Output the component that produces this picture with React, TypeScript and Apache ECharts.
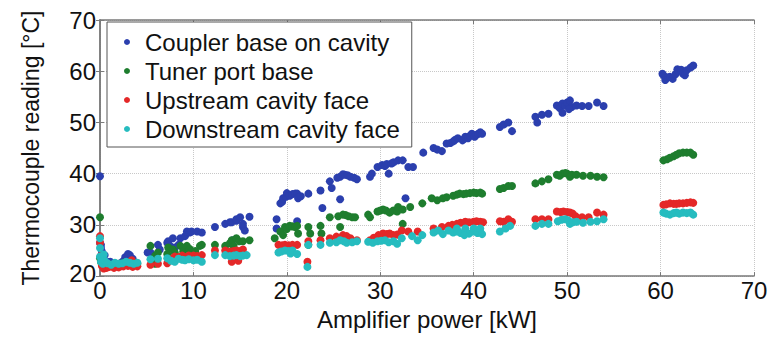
import React, { useEffect, useRef } from "react";
import * as echarts from "echarts";

const seriesNames = [
  "Coupler base on cavity",
  "Tuner port base",
  "Upstream cavity face",
  "Downstream cavity face",
];
const seriesColors = ["#2b3fae", "#1e7d2e", "#e42828", "#26bcbf"];

const xTicks = [0, 10, 20, 30, 40, 50, 60, 70];
const yTicks = [20, 30, 40, 50, 60, 70];

const couplerBase: number[][] = [
  [0, 39.5], [0, 26.5], [0.1, 26.1], [0.1, 25.5], [0.2, 24.8], [0.5, 24.1], [0.3, 23.5], [0.8, 22.8], [1.1, 22.8],
  [2.4, 22.8], [2.7, 23.7], [3.2, 24.1], [3.5, 23.4], [3.0, 24.3],
  [5.1, 24.6], [5.4, 24.6], [6.2, 26.1], [6.4, 25.2], [7.2, 26.5], [7.5, 25.9], [7.3, 26.8], [8.0, 25.6], [7.8, 27.4],
  [8.4, 26.1], [8.6, 27.4], [9.1, 27.8], [9.3, 28.7], [9.6, 28.5], [9.8, 28.7], [10.4, 28.7], [10.9, 28.5],
  [12.3, 29.6], [13.4, 30.2], [13.9, 30.5], [14.1, 30.5], [14.6, 30.8], [14.6, 31.1], [15.0, 31.5], [15.3, 29.6],
  [15.5, 28.9], [15.3, 30.2], [16.0, 31.6], [14.2, 27.0],
  [18.9, 31.1], [18.9, 29.3], [19.3, 34.2], [19.5, 34.5], [19.6, 35.2], [19.9, 35.5], [20.0, 36.2], [20.3, 35.7],
  [20.6, 36.0], [20.9, 36.1], [21.1, 36.1], [21.2, 35.2], [21.5, 35.6], [21.1, 30.7], [22.3, 36.1], [23.6, 36.7], [23.8, 33.3],
  [24.6, 38.5], [24.8, 37.2], [25.4, 39.2], [25.7, 39.4], [26.0, 39.9], [26.2, 39.8], [26.5, 39.7], [26.8, 39.4],
  [27.2, 39.2], [27.5, 38.9], [25.7, 35.0], [28.9, 39.4], [29.1, 40.0], [29.7, 41.3], [30.2, 41.7], [30.5, 41.5],
  [30.7, 41.9], [30.9, 40.0], [31.2, 42.0], [31.4, 42.2], [31.9, 42.6], [32.4, 42.6], [32.7, 35.2], [33.0, 41.3], [33.5, 41.3],
  [34.6, 44.1], [35.7, 45.0], [36.1, 44.7], [36.6, 44.4], [37.1, 45.9], [37.5, 46.0], [37.8, 46.3], [38.0, 46.6],
  [38.3, 46.9], [38.8, 46.5], [39.0, 46.8], [39.1, 47.2], [39.4, 46.9], [39.6, 47.4], [39.8, 47.8], [40.1, 47.2],
  [40.3, 47.6], [40.5, 47.8], [40.7, 48.1], [40.9, 47.8],
  [42.8, 49.1], [43.2, 49.6], [43.7, 50.0], [44.1, 48.3],
  [46.6, 51.1], [46.8, 50.0], [47.3, 51.5], [48.0, 51.7],
  [48.9, 53.3], [49.2, 52.8], [49.5, 53.7], [49.5, 51.9], [49.8, 53.3], [50.0, 53.9], [50.3, 54.3], [50.5, 53.0],
  [50.2, 52.6], [51.0, 53.3], [51.6, 53.2], [52.3, 53.2], [53.2, 53.9], [53.9, 53.2],
  [60.2, 59.5], [60.3, 59.2], [60.5, 58.3], [60.8, 58.8], [61.0, 58.9], [61.3, 58.5], [61.6, 59.4], [61.8, 60.4],
  [61.9, 60.1], [62.2, 60.3], [62.4, 59.5], [62.6, 59.2], [62.8, 60.2], [63.2, 60.7], [63.5, 61.1],
];

const tunerPortBase: number[][] = [
  [0, 31.5], [0, 23.5], [0.1, 22.8], [0.2, 22.2], [0.5, 22.0], [1.0, 22.3], [1.5, 22.1], [2.0, 22.4], [2.5, 22.6],
  [3.0, 22.5], [3.5, 22.8], [4.0, 22.4],
  [5.4, 25.9], [5.9, 24.0], [6.2, 24.6], [7.2, 24.3], [7.3, 25.6], [7.8, 25.2], [8.0, 24.6], [8.6, 25.9], [8.9, 24.8],
  [9.3, 25.9], [9.6, 25.3], [9.8, 24.8], [10.2, 24.9], [10.7, 25.9], [10.9, 26.1], [5.9, 22.4],
  [12.3, 26.1], [13.4, 25.9], [13.9, 26.4], [14.1, 27.0], [14.3, 25.9], [14.6, 27.4], [14.9, 26.8], [15.3, 26.8], [16.0, 27.0],
  [18.7, 27.4], [19.3, 28.7], [19.6, 28.0], [19.8, 29.6], [20.0, 29.2], [20.3, 29.8], [20.6, 29.7], [20.9, 29.6],
  [21.2, 28.3], [21.1, 29.8], [22.3, 29.6], [22.3, 26.1], [22.5, 28.3],
  [23.6, 29.8], [23.7, 28.3], [24.6, 31.5], [25.5, 31.7], [25.7, 29.6], [26.0, 32.0], [26.3, 31.9], [26.6, 31.7],
  [27.0, 31.5], [27.3, 31.5], [28.7, 32.0], [28.9, 31.5], [29.7, 32.6], [30.0, 32.8], [30.3, 33.0], [30.6, 32.8],
  [31.0, 32.4], [31.4, 32.8], [31.8, 32.6], [32.4, 30.2],
  [31.9, 33.5], [32.4, 33.0], [33.2, 33.5], [34.5, 34.2], [35.5, 35.2], [36.1, 34.8], [36.7, 35.2], [37.1, 35.4],
  [37.8, 35.7], [38.2, 35.9], [38.5, 36.1], [38.9, 36.0], [39.2, 36.1], [39.6, 36.2], [40.0, 36.3], [40.3, 36.2],
  [40.7, 36.3], [40.9, 36.1],
  [42.8, 37.0], [43.2, 37.2], [43.7, 37.6], [44.1, 37.6],
  [46.6, 38.1], [47.3, 38.5], [48.0, 38.9],
  [48.9, 39.8], [49.2, 39.6], [49.5, 40.0], [49.8, 40.1], [50.0, 40.0], [50.3, 39.4], [50.5, 39.8], [51.0, 39.8],
  [51.7, 39.6], [52.5, 39.6], [53.2, 39.4], [53.9, 39.3],
  [60.3, 42.6], [60.7, 42.8], [61.0, 43.1], [61.4, 43.4], [61.7, 43.7], [62.0, 44.0], [62.4, 44.1], [62.8, 44.1],
  [63.2, 44.1], [63.5, 43.7],
];

const upstreamFace: number[][] = [
  [0, 27.8], [0, 26.5], [0.1, 24.0], [0.2, 22.0], [0.4, 21.5], [0.7, 21.6], [1.0, 21.8], [1.5, 21.6], [2.0, 21.7],
  [2.5, 21.9], [3.0, 22.0], [3.4, 23.1], [3.5, 21.8], [4.0, 21.9],
  [5.4, 22.2], [6.2, 22.4], [7.2, 22.5], [7.5, 23.3], [8.0, 23.8], [8.4, 23.7], [8.8, 24.0], [9.1, 23.7], [9.5, 24.0],
  [10.0, 24.0], [10.4, 23.9], [10.9, 24.1],
  [12.3, 25.0], [13.4, 25.0], [13.9, 24.8], [14.3, 24.9], [14.6, 25.0], [15.0, 24.9], [15.3, 25.2], [14.1, 22.8], [14.8, 23.0],
  [19.1, 26.1], [19.5, 26.0], [19.8, 26.1], [20.2, 26.0], [20.6, 26.1], [21.1, 26.1],
  [22.2, 22.8],
  [22.3, 26.8], [23.6, 27.0], [24.6, 27.4], [25.3, 27.7], [26.0, 28.0], [26.4, 27.8], [26.8, 27.4], [27.5, 27.0],
  [28.9, 27.0], [29.3, 27.5], [29.8, 28.0], [30.3, 28.3], [30.7, 28.2], [31.0, 28.3], [31.4, 28.0], [31.8, 28.1],
  [32.3, 28.9], [33.0, 28.7], [34.0, 28.7], [35.7, 29.3], [36.6, 29.6], [37.3, 29.8], [37.7, 30.0], [38.2, 30.2],
  [38.6, 30.4], [39.1, 30.6], [39.5, 30.5], [40.0, 30.6], [40.3, 30.7], [40.7, 30.6], [41.0, 30.5],
  [42.8, 30.7], [43.2, 30.6], [43.7, 31.1], [44.1, 30.6],
  [46.6, 31.1], [47.3, 31.1], [48.0, 31.1],
  [48.9, 32.6], [49.3, 32.5], [49.6, 32.6], [50.0, 32.5], [50.3, 32.4], [50.6, 32.2], [50.9, 31.7], [51.6, 31.5],
  [52.3, 31.5], [53.2, 32.4], [53.9, 32.0],
  [60.3, 33.9], [60.6, 34.0], [61.0, 34.2], [61.4, 34.1], [61.7, 34.1], [62.0, 34.2], [62.4, 34.2], [62.8, 34.3],
  [63.2, 34.4], [63.5, 34.3],
];

const downstreamFace: number[][] = [
  [0, 27.4], [0, 25.5], [0, 23.8], [0.1, 22.8], [0.3, 22.4], [0.4, 24.2], [0.5, 23.0], [0.8, 22.5], [1.2, 22.2],
  [1.6, 22.6], [2.0, 22.4], [2.4, 22.5], [2.8, 22.8], [3.2, 22.6], [3.6, 22.4], [4.0, 22.6],
  [5.4, 23.3], [6.2, 23.4], [7.2, 23.5], [7.6, 23.0], [8.0, 22.8], [8.4, 23.4], [8.8, 23.2], [9.1, 23.1], [9.5, 23.3],
  [10.0, 23.1], [10.4, 23.2], [10.9, 22.8],
  [12.3, 24.1], [13.4, 24.1], [13.9, 23.9], [14.3, 24.0], [14.6, 24.1], [15.0, 23.9], [15.3, 24.0], [15.7, 24.1],
  [19.1, 24.6], [19.4, 24.8], [19.8, 25.0], [20.2, 24.9], [20.4, 24.4], [20.6, 25.0], [21.1, 24.3],
  [22.2, 21.8],
  [22.3, 26.1], [23.6, 26.1], [24.6, 26.5], [25.3, 26.6], [25.7, 27.0], [26.1, 26.8], [26.4, 26.5], [27.0, 26.6],
  [27.5, 26.8], [28.7, 26.7], [29.2, 26.5], [29.7, 26.8], [30.1, 26.9], [30.5, 27.0], [30.9, 26.6], [31.4, 26.8], [31.8, 26.3],
  [32.3, 27.4], [33.4, 27.8], [34.0, 27.0], [34.5, 28.0], [35.7, 28.5], [36.2, 28.9], [36.7, 28.2], [37.3, 28.9],
  [37.8, 28.5], [38.2, 28.7], [38.2, 29.3], [38.6, 28.4], [39.1, 28.7], [39.1, 29.3], [39.5, 28.3], [40.0, 28.7],
  [40.0, 29.3], [40.4, 28.4], [40.7, 28.7], [40.7, 29.3], [40.9, 28.2], [39.0, 28.0],
  [42.8, 28.7], [43.4, 29.3], [43.9, 29.8],
  [46.6, 29.8], [47.3, 30.2], [48.0, 30.2],
  [49.0, 30.7], [49.4, 31.0], [49.8, 31.1], [50.1, 30.9], [50.3, 30.2], [50.6, 30.5], [51.0, 30.6], [51.7, 30.4],
  [52.5, 30.6], [53.2, 30.7], [53.9, 31.1],
  [60.3, 32.4], [60.6, 32.2], [61.0, 32.0], [61.4, 32.3], [61.7, 32.4], [62.0, 32.2], [62.4, 32.4], [62.8, 32.3],
  [63.2, 32.4], [63.5, 32.0],
];

const seriesData = [couplerBase, tunerPortBase, upstreamFace, downstreamFace];

const FONT = "'Liberation Sans', Arial, Helvetica, sans-serif";
const AXIS_COLOR = "#7a7a7a";
const FS = 24;

export default function App() {
  const ref = useRef<HTMLDivElement>(null);
  useEffect(() => {
    if (!ref.current) return;
    const chart = echarts.init(ref.current, undefined, { renderer: "svg" });
    const xMin = xTicks[0];
    const xMax = xTicks[xTicks.length - 1];
    const yMin = yTicks[0];
    const yMax = yTicks[yTicks.length - 1];
    const common = {
      axisLine: { show: true, lineStyle: { color: AXIS_COLOR, width: 1.5 } },
      axisTick: { show: true, inside: true, length: 4, lineStyle: { color: AXIS_COLOR } },
    };
    chart.setOption({
      animation: false,
      backgroundColor: "#ffffff",
      textStyle: { fontFamily: FONT },
      grid: { left: 92, right: 19, top: 12, bottom: 46 },
      legend: {
        orient: "vertical",
        left: 99,
        top: 14,
        data: seriesNames,
        icon: "circle",
        itemWidth: 26,
        itemHeight: 6,
        itemGap: 3,
        padding: [7, 12, 5, 17],
        borderColor: "#555555",
        borderWidth: 1,
        backgroundColor: "#ffffff",
        textStyle: { fontFamily: FONT, fontSize: FS, color: "#111111", lineHeight: 26 },
      },
      xAxis: [
        {
          type: "value",
          min: xMin,
          max: xMax,
          interval: 10,
          name: "Amplifier power [kW]",
          nameLocation: "middle",
          nameGap: 27,
          nameTextStyle: { fontFamily: FONT, fontSize: FS, color: "#111111" },
          axisLabel: { fontFamily: FONT, fontSize: FS, color: "#111111", margin: 2 },
          splitLine: { show: true, lineStyle: { color: "#c8c8c8", type: "dotted", width: 1 } },
          ...common,
        },
        {
          type: "value",
          position: "top",
          min: xMin,
          max: xMax,
          interval: 10,
          axisLabel: { show: false },
          splitLine: { show: false },
          ...common,
        },
      ],
      yAxis: [
        {
          type: "value",
          min: yMin,
          max: yMax,
          interval: 10,
          name: "Thermocouple reading [°C]",
          nameLocation: "middle",
          nameGap: 58,
          nameTextStyle: { fontFamily: FONT, fontSize: 23, color: "#111111" },
          axisLabel: {
            fontFamily: FONT,
            fontSize: FS,
            color: "#111111",
            margin: 4,
            formatter: (v: number) => (v === yMin ? `{low|${v}}` : `{n|${v}}`),
            rich: {
              low: { fontFamily: FONT, fontSize: FS, color: "#111111", padding: [0, 0, 6, 0] },
              n: { fontFamily: FONT, fontSize: FS, color: "#111111" },
            },
          },
          splitLine: { show: true, lineStyle: { color: "#c8c8c8", type: "dotted", width: 1 } },
          ...common,
        },
        {
          type: "value",
          position: "right",
          min: yMin,
          max: yMax,
          interval: 10,
          axisLabel: { show: false },
          splitLine: { show: false },
          ...common,
        },
      ],
      series: seriesNames.map((name, i) => ({
        name,
        type: "scatter",
        xAxisIndex: 0,
        yAxisIndex: 0,
        data: seriesData[i],
        symbol: "circle",
        symbolSize: 8,
        itemStyle: { color: seriesColors[i], opacity: 1 },
      })),
    });
    return () => chart.dispose();
  }, []);
  return <div ref={ref} style={{ width: 765, height: 328 }} />;
}
